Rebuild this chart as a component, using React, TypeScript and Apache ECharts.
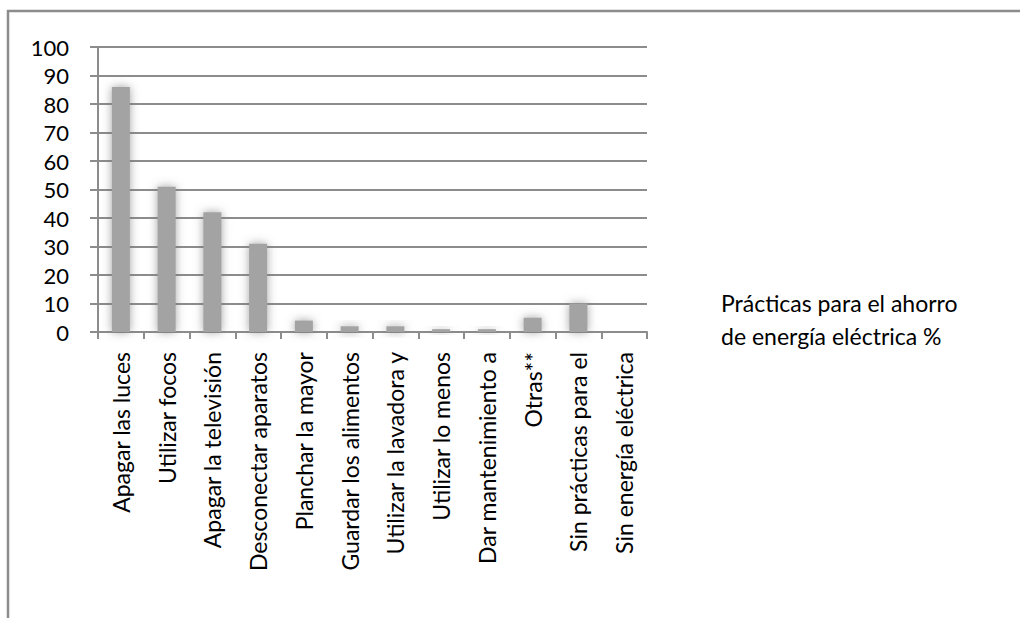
import React, { useEffect, useRef } from "react";
import * as echarts from "echarts";

const categories = [
  "Apagar las luces",
  "Utilizar focos",
  "Apagar la televisión",
  "Desconectar aparatos",
  "Planchar la mayor",
  "Guardar los alimentos",
  "Utilizar la lavadora y",
  "Utilizar lo menos",
  "Dar mantenimiento a",
  "Otras**",
  "Sin prácticas para el",
  "Sin energía eléctrica",
];
const values = [86, 51, 42, 31, 4, 2, 2, 1, 1, 5, 10, 0];
const seriesName = "Prácticas para el ahorro\nde energía eléctrica %";
const FONT = "Lato, 'Open Sans', sans-serif";

export default function App() {
  const ref = useRef<HTMLDivElement>(null);
  useEffect(() => {
    if (!ref.current) return;
    const chart = echarts.init(ref.current, null, { renderer: "svg" });
    chart.setOption({
      animation: false,
      backgroundColor: "#ffffff",
      graphic: [
        {
          type: "rect",
          shape: { x: 8, y: 11, width: 1200, height: 800 },
          style: { fill: "none", stroke: "#8c8c8c", lineWidth: 2.5 },
          silent: true,
        },
      ],
      legend: {
        show: true,
        left: 716,
        top: 286,
        icon: "none",
        itemWidth: 0,
        itemHeight: 0,
        padding: 0,
        selectedMode: false,
        textStyle: { fontFamily: FONT, fontSize: 23, color: "#000", lineHeight: 33, padding: 0 },
        data: [seriesName],
      },
      grid: { left: 98, right: 373, top: 47, bottom: 286 },
      xAxis: {
        type: "category",
        data: categories,
        boundaryGap: true,
        axisLine: { lineStyle: { color: "#8c8c8c", width: 2 } },
        axisTick: { show: true, length: 7, lineStyle: { color: "#8c8c8c", width: 2 } },
        axisLabel: {
          interval: 0,
          rotate: 90,
          margin: 20,
          fontFamily: FONT,
          fontSize: 23,
          color: "#000",
        },
      },
      yAxis: {
        type: "value",
        min: 0,
        max: 100,
        interval: 10,
        axisLine: { show: true, lineStyle: { color: "#8c8c8c", width: 2 } },
        axisTick: { show: true, length: 8, lineStyle: { color: "#8c8c8c", width: 2 } },
        splitLine: { show: true, lineStyle: { color: "#8c8c8c", width: 2 } },
        axisLabel: { margin: 29, fontFamily: FONT, fontSize: 22, color: "#000" },
      },
      series: [
        {
          name: seriesName,
          type: "bar",
          data: values,
          barWidth: 18,
          itemStyle: {
            color: "#a3a3a3",
            shadowBlur: 10,
            shadowColor: "rgba(110,110,110,0.65)",
          },
        },
      ],
    });
    return () => chart.dispose();
  }, []);
  return (
    <div
      ref={ref}
      style={{ position: "fixed", left: 0, top: 0, width: 1020, height: 618 }}
    />
  );
}
